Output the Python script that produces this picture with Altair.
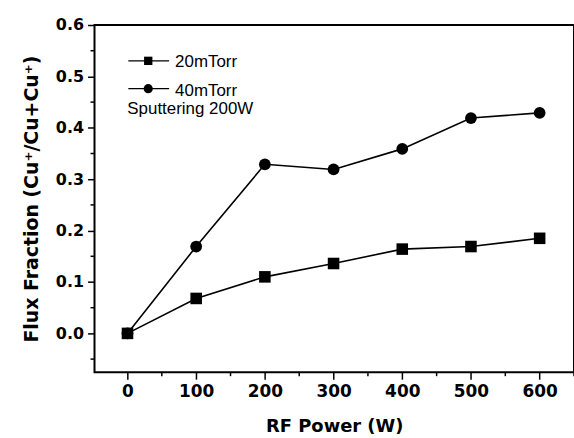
import altair as alt
import pandas as pd

power = [0, 100, 200, 300, 400, 500, 600]
flux_20 = [0.0, 0.068, 0.110, 0.136, 0.164, 0.169, 0.185]
flux_40 = [0.0, 0.169, 0.329, 0.319, 0.359, 0.419, 0.429]
series_names = ["20mTorr", "40mTorr"]
note_text = "Sputtering 200W"

x_major = [0, 100, 200, 300, 400, 500, 600]
x_minor = [50, 150, 250, 350, 450, 550, 650]
y_major = [0.0, 0.1, 0.2, 0.3, 0.4, 0.5, 0.6]
y_minor = [-0.05, 0.05, 0.15, 0.25, 0.35, 0.45, 0.55]

df20 = pd.DataFrame({"power": power, "flux": flux_20, "series": series_names[0]})
df40 = pd.DataFrame({"power": power, "flux": flux_40, "series": series_names[1]})

W, H = 482, 349
xdom = [-48, 650]
ydom = [-0.0755, 0.6]

xscale = alt.Scale(domain=xdom, nice=False, zero=False)
yscale = alt.Scale(domain=ydom, nice=False, zero=False)

FONT = "DejaVu Sans"

xaxis = alt.Axis(
    title="RF Power (W)",
    values=x_major,
    format="d",
    labelOverlap=False,
    domain=False, grid=False,
    tickColor="black", tickWidth=1.5, tickSize=7,
    labelFont=FONT, labelFontWeight="bold", labelFontSize=17, labelColor="black",
    labelPadding=4,
    titleFont=FONT, titleFontWeight="bold", titleFontSize=18, titleColor="black",
    titlePadding=19,
)
yaxis = alt.Axis(
    title="Flux Fraction (Cu⁺/Cu+Cu⁺)",
    values=y_major,
    format=".1f",
    labelOverlap=False,
    domain=False, grid=False,
    tickColor="black", tickWidth=1.5, tickSize=7,
    labelFont=FONT, labelFontWeight="bold", labelFontSize=16, labelColor="black",
    labelPadding=4,
    titleFont=FONT, titleFontWeight="bold", titleFontSize=19, titleColor="black",
    titlePadding=14,
)

def series(df, shape, size):
    base = alt.Chart(df)
    line = base.mark_line(color="black", strokeWidth=1.6).encode(
        x=alt.X("power:Q", scale=xscale, axis=xaxis),
        y=alt.Y("flux:Q", scale=yscale, axis=yaxis),
    )
    pts = base.mark_point(shape=shape, filled=True, color="black", size=size, opacity=1).encode(
        x=alt.X("power:Q", scale=xscale),
        y=alt.Y("flux:Q", scale=yscale),
    )
    return line + pts

# minor ticks
xminor_df = pd.DataFrame({"v": x_minor})
yminor_df = pd.DataFrame({"v": y_minor})
xminor = alt.Chart(xminor_df).mark_rule(color="black", strokeWidth=1.5, clip=False).encode(
    x=alt.X("v:Q", scale=xscale), y=alt.value(H), y2=alt.value(H + 4)
)
yminor = alt.Chart(yminor_df).mark_rule(color="black", strokeWidth=1.5, clip=False).encode(
    y=alt.Y("v:Q", scale=yscale), x=alt.value(-4), x2=alt.value(0)
)

legend_df = pd.DataFrame({"label": series_names, "ly": [36, 64], "ty": [42, 71]})
leg_line = alt.Chart(legend_df).mark_rule(color="black", strokeWidth=1.3).encode(
    x=alt.value(34), x2=alt.value(75), y=alt.Y("ly:Q", scale=None)
)
leg_sq = alt.Chart(legend_df.iloc[[0]]).mark_point(shape="square", filled=True, color="black", size=70, opacity=1).encode(
    x=alt.value(54), y=alt.Y("ly:Q", scale=None)
)
leg_ci = alt.Chart(legend_df.iloc[[1]]).mark_point(shape="circle", filled=True, color="black", size=85, opacity=1).encode(
    x=alt.value(54), y=alt.Y("ly:Q", scale=None)
)
leg_txt = alt.Chart(legend_df).mark_text(align="left", baseline="alphabetic", font="Liberation Sans", fontSize=17, color="black").encode(
    x=alt.value(81), y=alt.Y("ty:Q", scale=None), text="label:N"
)
note = alt.Chart(pd.DataFrame({"t": [note_text]})).mark_text(align="left", baseline="alphabetic", font="Liberation Sans", fontSize=17, color="black").encode(
    x=alt.value(33), y=alt.value(89), text="t:N"
)

chart = alt.layer(
    series(df20, "square", 135),
    series(df40, "circle", 140),
    xminor, yminor,
    leg_line, leg_sq, leg_ci, leg_txt, note,
).properties(
    width=W, height=H,
    autosize=alt.AutoSizeParams(type="none"),
    padding={"left": 95, "top": 24, "right": 0, "bottom": 65},
    background="white",
).configure_view(stroke="black", strokeWidth=2)

chart.save("out.html", embed_options={"renderer": "svg", "actions": False})
